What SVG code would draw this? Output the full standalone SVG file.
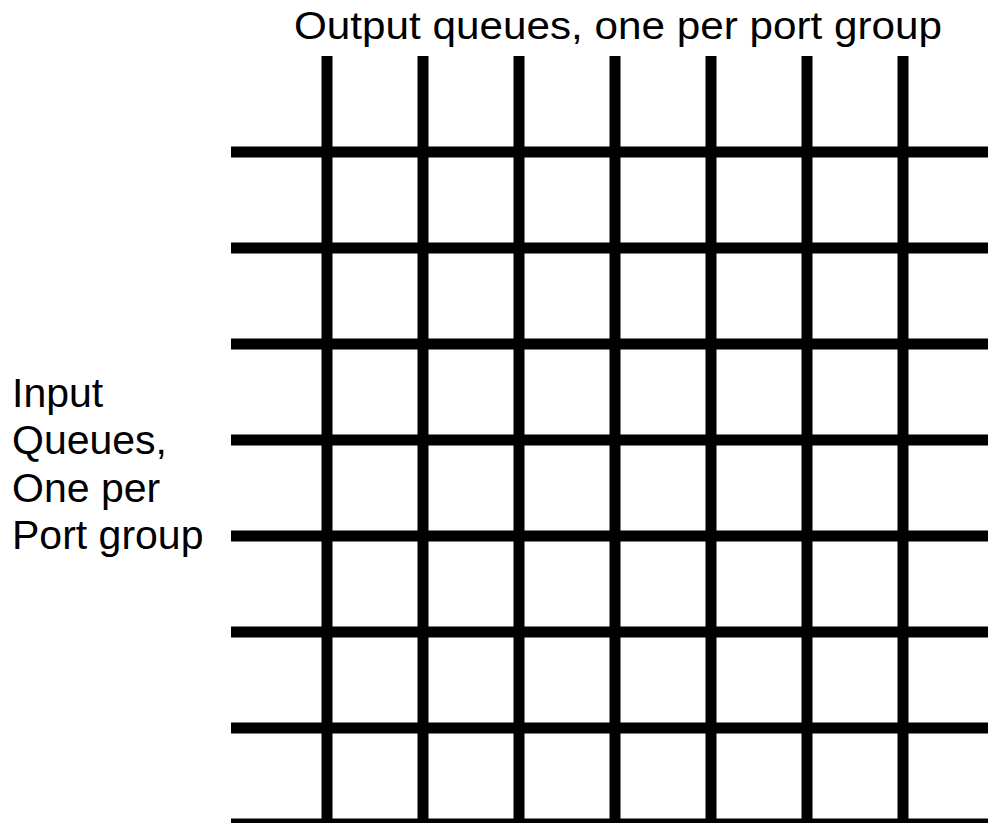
<svg xmlns="http://www.w3.org/2000/svg" width="988" height="823" viewBox="0 0 988 823">
<style>
.t{font-family:"Liberation Sans",Arial,sans-serif;fill:#000}
.top{font-size:39px}
.side{font-size:41px}
.g{stroke:#000;stroke-width:11;fill:none}
</style>
<rect width="988" height="823" fill="#fff"/>
<g id="grid-label-top"><text class="t top" x="294" y="39" textLength="648" lengthAdjust="spacingAndGlyphs">Output queues, one per port group</text></g>
<g id="grid-label-left" class="t side"><text x="12" y="406.5">Input</text><text x="12" y="454">Queues,</text><text x="12" y="501.5">One per</text><text x="12" y="549">Port group</text></g>
<g id="connectors" class="g">
<path d="M327 56V823M423 56V823M519 56V823M615 56V823M711 56V823M807 56V823M903 56V823"/>
<path d="M231 152H988M231 248H988M231 344H988M231 440H988M231 536H988M231 632H988M231 728H988M231 824H988"/>
</g>
</svg>
